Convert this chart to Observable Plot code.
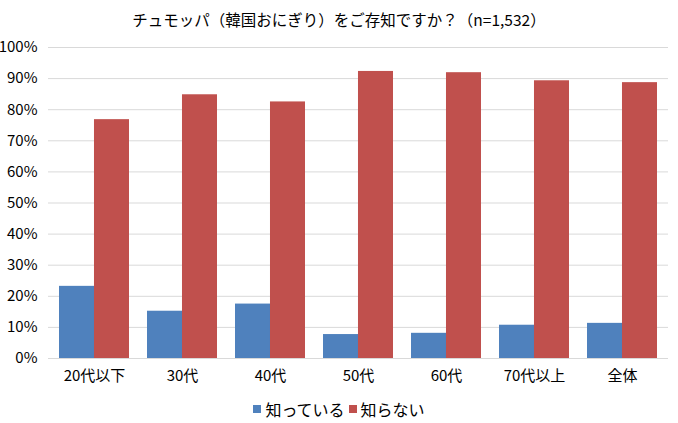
<!DOCTYPE html>
<html>
<head>
<meta charset="utf-8">
<script src="https://cdn.jsdelivr.net/npm/d3@7"></script>
<script src="https://cdn.jsdelivr.net/npm/@observablehq/plot@0.6"></script>
<style>
  html, body { margin: 0; padding: 0; background: #fff; }
  body { width: 678px; height: 423px; overflow: hidden; font-family: "Noto Sans CJK JP", sans-serif; color: #000; }
  #title { height: 32px; line-height: 38px; text-align: center; font-size: 15.5px; }
  #legend { display: flex; justify-content: center; align-items: center; font-size: 16px; height: 30px; margin-left: 0px; }
  .item { display: flex; align-items: center; margin: 0 2px; }
  .sw { width: 8px; height: 8px; margin-right: 4px; }
</style>
</head>
<body>
<div id="title">チュモッパ（韓国おにぎり）をご存知ですか？（n=1,532）</div>
<div id="chart"></div>
<div id="legend"></div>
<script>
const categories = ["20代以下", "30代", "40代", "50代", "60代", "70代以上", "全体"];
const seriesNames = ["知っている", "知らない"];
const knows = [0.232, 0.152, 0.175, 0.077, 0.081, 0.107, 0.113];
const notKnows = [0.768, 0.848, 0.825, 0.923, 0.919, 0.893, 0.887];
const yTicks = [0, 0.1, 0.2, 0.3, 0.4, 0.5, 0.6, 0.7, 0.8, 0.9, 1.0];
const colors = ["#4F81BD", "#C0504D"];

const rows = categories.map((c, i) => ({cat: c, knows: knows[i], notKnows: notKnows[i]}));

const width = 678, marginLeft = 48, marginRight = 10;
const paddingInner = 0.21;
const band = (width - marginLeft - marginRight) / categories.length * (1 - paddingInner);
const half = band / 2;

const chart = Plot.plot({
  width,
  height: 362,
  marginTop: 15,
  marginBottom: 36,
  marginLeft,
  marginRight,
  style: {fontFamily: '"Noto Sans CJK JP", sans-serif', fontSize: "15px", color: "#000", background: "#fff"},
  x: {domain: categories, paddingInner, paddingOuter: paddingInner / 2, label: null},
  y: {domain: [0, 1], label: null},
  marks: [
    Plot.gridY(yTicks, {stroke: "#d9d9d9", strokeOpacity: 1}),
    Plot.barY(rows, {x: "cat", y: "knows", fill: colors[0], insetRight: half}),
    Plot.barY(rows, {x: "cat", y: "notKnows", fill: colors[1], insetLeft: half}),
    Plot.axisY(yTicks, {tickSize: 0, tickPadding: 11, tickFormat: d3.format(".0%"), label: null, fontSize: 15}),
    Plot.axisX({tickSize: 0, tickPadding: 12, label: null, fontSize: 15})
  ]
});
document.getElementById("chart").appendChild(chart);

const legend = document.getElementById("legend");
seriesNames.forEach((n, i) => {
  const it = document.createElement("div");
  it.className = "item";
  it.innerHTML = `<span class="sw" style="background:${colors[i]}"></span><span>${n}</span>`;
  legend.appendChild(it);
});
</script>
</body>
</html>
